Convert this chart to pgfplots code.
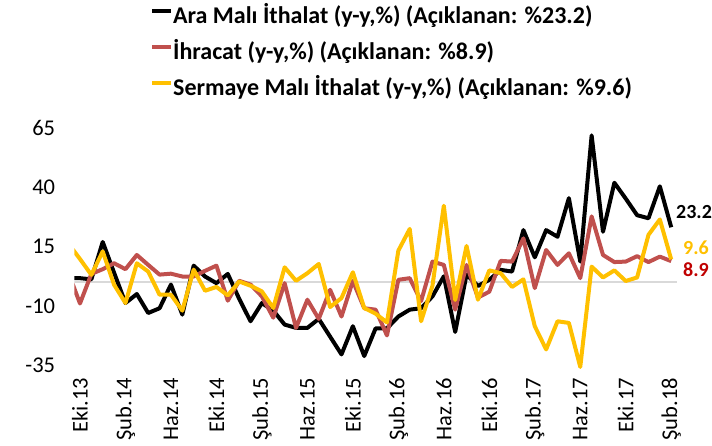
\documentclass[border=0pt]{standalone}
\usepackage{pgfplots}
\pgfplotsset{compat=1.18}
\usepackage{fontspec}
\setmainfont{Carlito}
\definecolor{cblack}{HTML}{000000}
\definecolor{cred}{HTML}{C0504D}
\definecolor{cyel}{HTML}{FFC000}
\definecolor{clab}{HTML}{C00000}
\definecolor{cgrid}{HTML}{D9D9D9}
\begin{document}
\begin{tikzpicture}[x=1pt,y=1pt]
\useasboundingbox (-74.3,-75.2) rectangle (637.7,369.8);
\begin{axis}[
  at={(0pt,0pt)}, anchor=south west,
  scale only axis, width=602.6pt, height=241.5pt,
  xmin=-0.5, xmax=52.5, ymin=-37, ymax=65,
  axis line style={draw=none},
  major tick length=0pt,
  xtick={0,4,...,52},
  xticklabels={Eki.13,Şub.14,Haz.14,Eki.14,Şub.15,Haz.15,Eki.15,Şub.16,Haz.16,Eki.16,Şub.17,Haz.17,Eki.17,Şub.18},
  xticklabel style={rotate=90, anchor=east, inner sep=0pt, font=\fontsize{22.5}{24}\selectfont},
  xticklabel shift=8pt,
  ytick={-35,-10,15,40,65},
  yticklabels={-35,-10,15,40,65},
  yticklabel style={anchor=east, inner sep=0pt, font=\fontsize{22.5}{24}\selectfont},
  yticklabel shift=19pt,
  legend style={at={(0.1256,1.5035)}, anchor=north west, draw=none, fill=none,
    font=\bfseries\fontsize{24}{26}\selectfont, inner sep=0pt, row sep=14pt,
    nodes={text height=17pt, text depth=5pt, inner sep=0pt, outer sep=0pt}},
  legend cell align=left,
  legend image code/.code={\draw[#1] (0pt,7pt) -- (19pt,7pt);},
  every axis plot/.append style={line width=4pt, line join=round},
]
\addplot[cgrid, line width=2pt, forget plot] coordinates {(-0.5,0) (52.5,0)};
\addplot[cblack] coordinates {
(-1,1.7) (0,1.7) (1,1.2) (2,17) (3,4) (4,-8.8) (5,-5) (6,-13) (7,-11) (8,-1)
(9,-13.7) (10,7) (11,2.4) (12,-0.4) (13,3.5) (14,-7) (15,-16.5) (16,-8.8) (17,-12) (18,-17.9)
(19,-19.3) (20,-19.3) (21,-15.5) (22,-23) (23,-30.5) (24,-18.6) (25,-31.2) (26,-19.5) (27,-19.5) (28,-14.5)
(29,-11.6) (30,-11) (31,-6) (32,2.5) (33,-21) (34,3.2) (35,-1.6) (36,1) (37,5.2) (38,4.5)
(39,22) (40,10.5) (41,22) (42,19.2) (43,35.5) (44,8.7) (45,62) (46,21.3) (47,42) (48,35.3)
(49,28.3) (50,27) (51,40.5) (52,23.2)};
\addlegendentry{Ara Malı İthalat (y-y,\%) (Açıklanan: \%23.2)}
\addplot[cred] coordinates {
(-1,3.8) (0,-9) (1,3.5) (2,5.5) (3,8) (4,5.5) (5,11.5) (6,7.3) (7,3.2) (8,3.6)
(9,2.4) (10,2.4) (11,4.8) (12,7) (13,-7.8) (14,0.6) (15,-1) (16,-6) (17,-15) (18,-0.4)
(19,-19.3) (20,-7.4) (21,-15.5) (22,-3.2) (23,-14.5) (24,0.5) (25,-11) (26,-11.6) (27,-22.5) (28,1)
(29,1.7) (30,-8) (31,8.7) (32,7.3) (33,-11.6) (34,7.3) (35,-6.5) (36,-4) (37,9) (38,8.7)
(39,18.5) (40,-2.5) (41,13.6) (42,7.3) (43,12.2) (44,1.7) (45,27.8) (46,11.5) (47,8.5) (48,8.7)
(49,11) (50,8.5) (51,10.8) (52,8.9)};
\addlegendentry{İhracat (y-y,\%) (Açıklanan: \%8.9)}
\addplot[cyel] coordinates {
(-1,16.2) (0,9.8) (1,3.1) (2,13) (3,-1.1) (4,-8.8) (5,8) (6,4.5) (7,-5.3) (8,-5.3)
(9,-12) (10,5.3) (11,-3.6) (12,-2) (13,-5.6) (14,0.3) (15,-1.5) (16,-3.9) (17,-10.9) (18,6.3)
(19,0.6) (20,3.8) (21,7.7) (22,-10.5) (23,-6.7) (24,4.2) (25,-10.9) (26,-13.3) (27,-17) (28,13.3)
(29,22.5) (30,-16.5) (31,-1.5) (32,32.3) (33,-7.5) (34,15.3) (35,-7.4) (36,5) (37,3.8) (38,-2)
(39,1.2) (40,-18.6) (41,-28.4) (42,-16.5) (43,-17.2) (44,-35.8) (45,6.6) (46,2) (47,5) (48,0.5)
(49,2) (50,20) (51,26.5) (52,9.6)};
\addlegendentry{Sermaye Malı İthalat (y-y,\%) (Açıklanan: \%9.6)}
\coordinate (la) at (axis cs:52.42,29.6);
\coordinate (lb) at (axis cs:53.03,14.4);
\coordinate (lc) at (axis cs:53.03,5.2);
\end{axis}
\node[anchor=west, inner sep=0pt, font=\bfseries\fontsize{20}{22}\selectfont, text=black] at (la) {23.2};
\node[anchor=west, inner sep=0pt, font=\bfseries\fontsize{20}{22}\selectfont, text=cyel] at (lb) {9.6};
\node[anchor=west, inner sep=0pt, font=\bfseries\fontsize{20}{22}\selectfont, text=clab] at (lc) {8.9};
\end{tikzpicture}
\end{document}
